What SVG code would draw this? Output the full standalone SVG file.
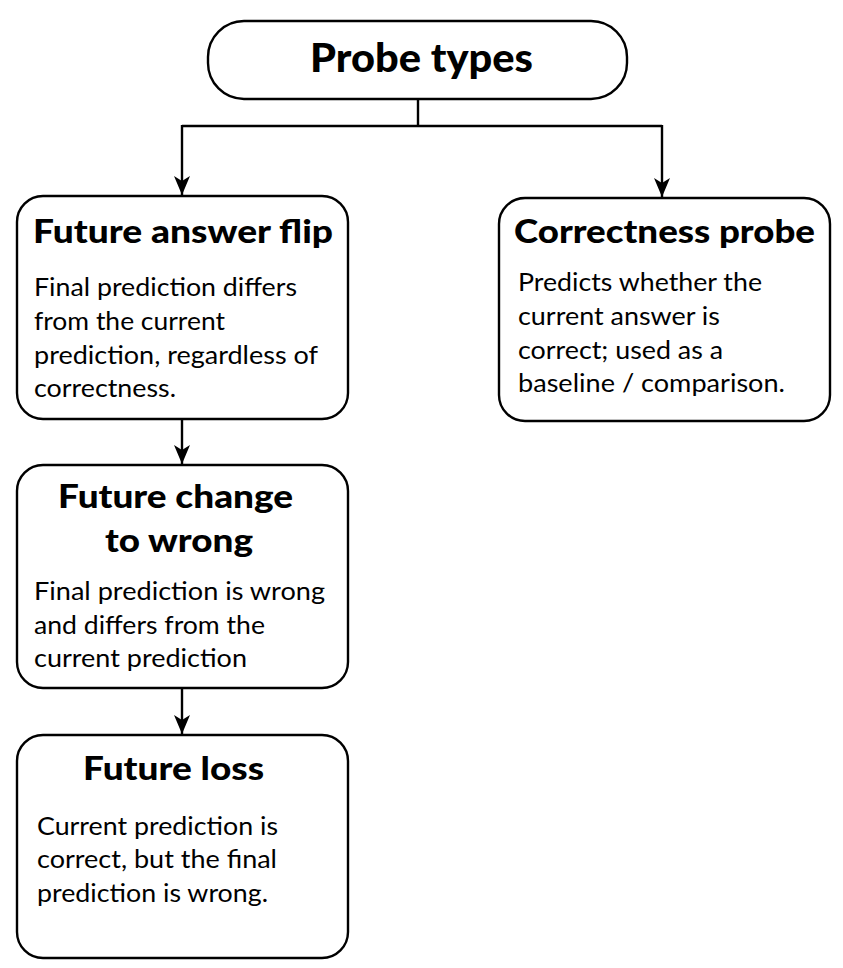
<svg xmlns="http://www.w3.org/2000/svg" width="843" height="968" viewBox="0 0 843 968">
<defs>
<style>
.box{fill:#fff;stroke:#000;stroke-width:2.4}
.t{font-family:Lato,"Liberation Sans",sans-serif;font-weight:900;fill:#000}
.b{font-family:Lato,"Liberation Sans",sans-serif;font-size:25px;fill:#000}
.c{fill:none;stroke:#000;stroke-width:2.4}
</style>
<marker id="ah" markerWidth="20" markerHeight="18" refX="19" refY="8" orient="auto" markerUnits="userSpaceOnUse" viewBox="0 0 20 16">
<path d="M0,0 L19,8 L0,16 L5,8 Z" fill="#000"/>
</marker>
</defs>
<rect width="843" height="968" fill="#fff"/>
<g id="connectors">
<path class="c" d="M418,99 V126"/>
<path class="c" d="M182,126 H662"/>
<path class="c" d="M182,125 V195" marker-end="url(#ah)"/>
<path class="c" d="M662,125 V197" marker-end="url(#ah)"/>
<path class="c" d="M182,419 V464" marker-end="url(#ah)"/>
<path class="c" d="M182,688 V734" marker-end="url(#ah)"/>
</g>
<g id="probe-types">
<rect class="box" x="208" y="21" width="419" height="78" rx="36"/>
<text class="t" x="310" y="72" font-size="40" textLength="223" lengthAdjust="spacingAndGlyphs">Probe types</text>
</g>
<g id="future-answer-flip">
<rect class="box" x="17" y="196" width="331" height="223" rx="26"/>
<text class="t" x="33" y="243" font-size="32" textLength="300" lengthAdjust="spacingAndGlyphs">Future answer flip</text>
<text class="b" x="34" y="296" textLength="263" lengthAdjust="spacingAndGlyphs">Final prediction differs</text>
<text class="b" x="34" y="330" textLength="191" lengthAdjust="spacingAndGlyphs">from the current</text>
<text class="b" x="34" y="364" textLength="284" lengthAdjust="spacingAndGlyphs">prediction, regardless of</text>
<text class="b" x="34" y="397" textLength="142" lengthAdjust="spacingAndGlyphs">correctness.</text>
</g>
<g id="correctness-probe">
<rect class="box" x="499" y="198" width="331" height="223" rx="26"/>
<text class="t" x="514" y="243" font-size="32" textLength="301" lengthAdjust="spacingAndGlyphs">Correctness probe</text>
<text class="b" x="518" y="291" textLength="244" lengthAdjust="spacingAndGlyphs">Predicts whether the</text>
<text class="b" x="518" y="325" textLength="202" lengthAdjust="spacingAndGlyphs">current answer is</text>
<text class="b" x="518" y="359" textLength="205" lengthAdjust="spacingAndGlyphs">correct; used as a</text>
<text class="b" x="518" y="392" textLength="267" lengthAdjust="spacingAndGlyphs">baseline / comparison.</text>
</g>
<g id="future-change-to-wrong">
<rect class="box" x="17" y="465" width="331" height="223" rx="26"/>
<text class="t" x="58" y="508" font-size="32" textLength="235" lengthAdjust="spacingAndGlyphs">Future change</text>
<text class="t" x="105" y="552" font-size="32" textLength="148" lengthAdjust="spacingAndGlyphs">to wrong</text>
<text class="b" x="34" y="600" textLength="291" lengthAdjust="spacingAndGlyphs">Final prediction is wrong</text>
<text class="b" x="34" y="634" textLength="231" lengthAdjust="spacingAndGlyphs">and differs from the</text>
<text class="b" x="34" y="667" textLength="213" lengthAdjust="spacingAndGlyphs">current prediction</text>
</g>
<g id="future-loss">
<rect class="box" x="17" y="735" width="331" height="223" rx="26"/>
<text class="t" x="83" y="780" font-size="32" textLength="181" lengthAdjust="spacingAndGlyphs">Future loss</text>
<text class="b" x="37" y="835" textLength="241" lengthAdjust="spacingAndGlyphs">Current prediction is</text>
<text class="b" x="37" y="868" textLength="240" lengthAdjust="spacingAndGlyphs">correct, but the final</text>
<text class="b" x="37" y="902" textLength="231" lengthAdjust="spacingAndGlyphs">prediction is wrong.</text>
</g>
</svg>
